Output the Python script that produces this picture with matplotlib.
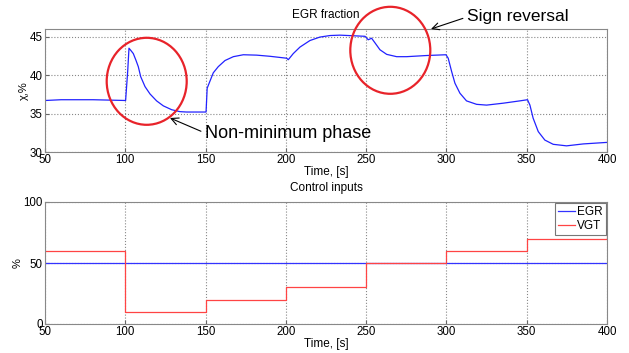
import matplotlib
matplotlib.use("Agg")
from matplotlib import pyplot as plt
from matplotlib.patches import Ellipse

plt.rcParams["font.family"] = ["Liberation Sans", "DejaVu Sans"]

# EGR fraction response
egr_time = [50, 60, 80, 100.2, 101.5, 102.3, 103.5, 105, 106.7, 108.1, 109.6, 112.3,
            115.4, 119.5, 123.7, 128.9, 134, 138.2, 150.3, 151.0, 152.7, 154.8,
            157.9, 162.1, 167.3, 173.5, 181.8, 190.1, 200.5, 201.5, 204.6, 208.8,
            215, 221.2, 227.5, 233.7, 249.3, 251.3, 253.4, 255.5, 258.6, 262.8,
            269, 275.2, 287.6, 299.7, 301.1, 303.2, 305.3, 308.4, 312.5, 318.8,
            325, 335.4, 345.7, 350.5, 352, 354, 357.2, 361.3, 366.5, 374.8,
            385.2, 400]
egr_frac = [36.7, 36.8, 36.8, 36.7, 40.5, 43.5, 43.2, 42.8, 41.9, 41.1, 39.8, 38.5,
            37.55, 36.65, 36.0, 35.5, 35.25, 35.2, 35.2, 38.3, 39.2, 40.3,
            41.1, 41.9, 42.4, 42.65, 42.6, 42.45, 42.2, 42.0, 42.8, 43.65,
            44.5, 44.95, 45.15, 45.2, 45.05, 44.6, 44.8, 44.2, 43.3, 42.7,
            42.4, 42.4, 42.55, 42.65, 42.2, 40.5, 38.95, 37.65, 36.65, 36.2,
            36.1, 36.35, 36.65, 36.8, 36.1, 34.4, 32.65, 31.55, 31.0, 30.8,
            31.05, 31.25]

# control inputs
step_time = [50, 100, 150, 200, 250, 300, 350, 400]
egr_input = [50, 50, 50, 50, 50, 50, 50, 50]
vgt_input = [60, 10, 20, 30, 50, 60, 70, 80]

x_ticks = [50, 100, 150, 200, 250, 300, 350, 400]

W, H = 629, 353
fig = plt.figure(figsize=(W / 100, H / 100), dpi=100)
ax1 = fig.add_axes([45 / W, 1 - 152 / H, 562 / W, 123 / H])
ax2 = fig.add_axes([45 / W, 1 - 324 / H, 562 / W, 122 / H])


def style(ax):
    ax.set_xlim(50, 400)
    ax.set_xticks(x_ticks)
    ax.grid(True, linestyle=":", color="#888888", linewidth=0.8)
    ax.tick_params(direction="in", labelsize=8.3, length=3, pad=1.5, color="#666666")
    for s in ax.spines.values():
        s.set_color("#888888")
        s.set_linewidth(0.8)
    ax.set_xlabel("Time, [s]", fontsize=8.5, labelpad=0)


ax1.plot(egr_time, egr_frac, color="#2222ff", linewidth=0.9)
style(ax1)
ax1.set_ylim(30, 46)
ax1.set_yticks([30, 35, 40, 45])
ax1.set_ylabel("χ,%", fontsize=8, labelpad=1)
ax1.set_title("EGR fraction", fontsize=8.5, pad=8)

ax2.plot(step_time, egr_input, color="#3333ff", linewidth=0.9, label="EGR")
ax2.plot(step_time, vgt_input, color="#ff4444", linewidth=0.9, drawstyle="steps-post", label="VGT")
style(ax2)
ax2.set_ylim(0, 100)
ax2.set_yticks([0, 50, 100])
ax2.set_ylabel("%", fontsize=8, labelpad=1)
ax2.set_title("Control inputs", fontsize=8.5, pad=8)
leg = ax2.legend(loc="upper right", fontsize=8.5, fancybox=False, borderpad=0.25,
                 handlelength=1.4, handletextpad=0.2, labelspacing=0.15, borderaxespad=0.1)
leg.get_frame().set_edgecolor("#555555")
leg.get_frame().set_linewidth(0.8)

# red circles drawn in figure space
for cx, cy in [(146.7, 81.3), (390.3, 50.3)]:
    fig.add_artist(Ellipse((cx / W, 1 - cy / H), 80 / W, 87 / H, transform=fig.transFigure,
                           fill=False, edgecolor="#e8232a", linewidth=1.6))

ax1.annotate("Non-minimum phase", xy=(170 / W, 1 - 118 / H), xytext=(205 / W, 1 - 133 / H),
             xycoords="figure fraction", textcoords="figure fraction", fontsize=13,
             ha="left", va="center",
             arrowprops=dict(arrowstyle="->", color="black", linewidth=0.8, relpos=(0, 0.5),
                             shrinkA=1, shrinkB=0))
ax1.annotate("Sign reversal", xy=(431 / W, 1 - 29 / H), xytext=(467 / W, 1 - 17 / H),
             xycoords="figure fraction", textcoords="figure fraction", fontsize=12.5,
             ha="left", va="center", annotation_clip=False,
             arrowprops=dict(arrowstyle="->", color="black", linewidth=0.8, relpos=(0, 0.5),
                             shrinkA=1, shrinkB=0))

fig.savefig("out.png", dpi=100)
